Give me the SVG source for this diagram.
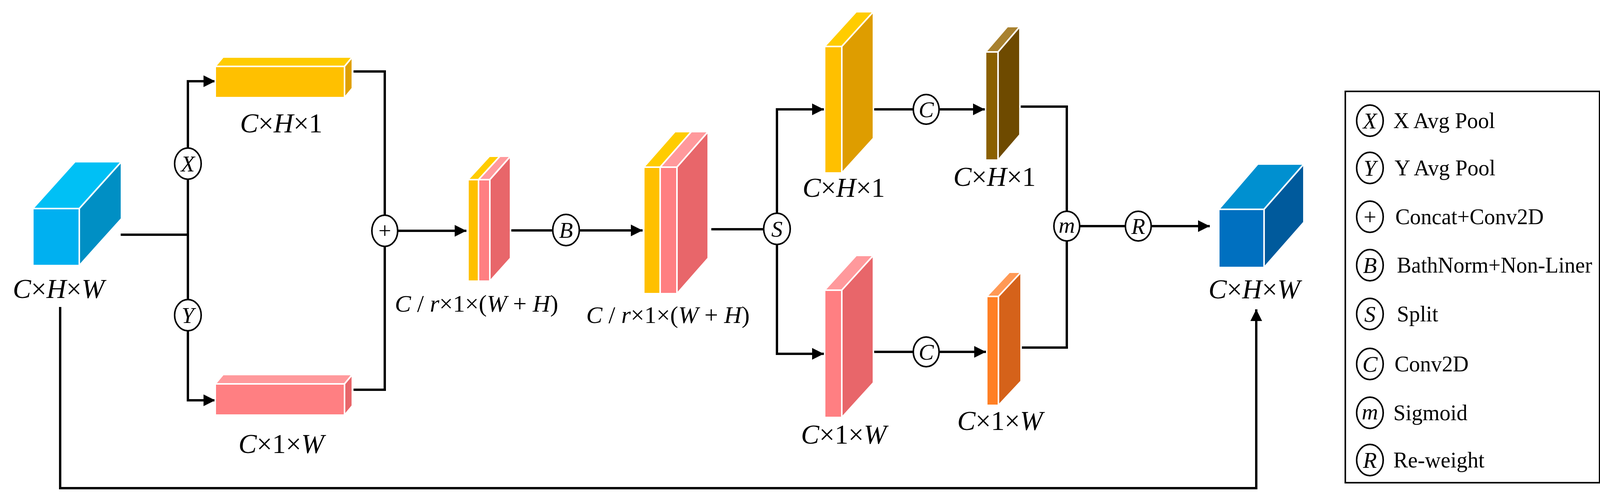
<svg xmlns="http://www.w3.org/2000/svg" width="4124" height="1288" viewBox="0 0 4124 1288">
<defs>
<marker id="a" viewBox="0 0 30 30" refX="30" refY="15" markerWidth="30" markerHeight="30" markerUnits="userSpaceOnUse" orient="auto"><path d="M0,0 L30,15 L0,30 Z" fill="#000"/></marker>
</defs>
<style>
.ln{fill:none;stroke:#000;stroke-width:6}
.op{fill:#fff;stroke:#000;stroke-width:4}
.ot{font-family:"Liberation Serif",serif;font-style:italic;font-size:58px;text-anchor:middle}
.lb{font-family:"Liberation Serif",serif;font-style:italic;font-size:70px;text-anchor:middle}
.ls{font-family:"Liberation Serif",serif;font-style:italic;font-size:62px;text-anchor:middle}
.lg{font-family:"Liberation Serif",serif;font-size:56px}
.f{stroke:#fff;stroke-width:4}
</style>
<rect width="4124" height="1288" fill="#fff"/>
<g id="connectors">
<polyline class="ln" points="309,601 481,601"/>
<polyline class="ln" points="481,601 481,208 551,208" marker-end="url(#a)"/>
<polyline class="ln" points="481,601 481,1025 551,1025" marker-end="url(#a)"/>
<polyline class="ln" points="905,183 985,183 985,998 905,998"/>
<line class="ln" x1="985" y1="591" x2="1194" y2="591" marker-end="url(#a)"/>
<line class="ln" x1="1307" y1="590" x2="1449" y2="590"/>
<line class="ln" x1="1449" y1="590" x2="1645" y2="590" marker-end="url(#a)"/>
<line class="ln" x1="1821" y1="587" x2="1989" y2="587"/>
<polyline class="ln" points="1989,587 1989,280 2109,280" marker-end="url(#a)"/>
<polyline class="ln" points="1989,587 1989,906 2109,906" marker-end="url(#a)"/>
<line class="ln" x1="2236" y1="280" x2="2521" y2="280" marker-end="url(#a)"/>
<line class="ln" x1="2236" y1="901" x2="2524" y2="901" marker-end="url(#a)"/>
<polyline class="ln" points="2611,273 2731,273 2731,890 2615,890"/>
<line class="ln" x1="2731" y1="579" x2="3097" y2="579" marker-end="url(#a)"/>
<polyline class="ln" points="154,786 154,1250 3216,1250 3216,792" marker-end="url(#a)"/>
</g>
<g id="input">
<polygon class="f" points="84,534 192,414 311,414 203,534" fill="#00C0F5"/>
<polygon class="f" points="203,534 311,414 311,560 203,680" fill="#008FC4"/>
<rect class="f" x="84" y="534" width="119" height="146" fill="#00B0F0"/>
<text class="lb" x="150" y="763">C<tspan font-style="normal">×</tspan>H<tspan font-style="normal">×</tspan>W</text>
</g>
<g id="opX"><ellipse class="op" cx="481" cy="419" rx="34" ry="40"/><text class="ot" x="481" y="439">X</text></g>
<g id="opY"><ellipse class="op" cx="481" cy="807" rx="34" ry="40"/><text class="ot" x="481" y="827">Y</text></g>
<g id="barH">
<polygon class="f" points="551,170 571,146 902,146 882,170" fill="#FFCC00"/>
<polygon class="f" points="882,170 902,146 902,226 882,250" fill="#E0A000"/>
<rect class="f" x="551" y="170" width="331" height="80" fill="#FFC000"/>
<text class="lb" x="720" y="339">C<tspan font-style="normal">×</tspan>H<tspan font-style="normal">×1</tspan></text>
</g>
<g id="barW">
<polygon class="f" points="551,983 571,959 902,959 882,983" fill="#FF999C"/>
<polygon class="f" points="882,983 902,959 902,1039 882,1063" fill="#E8666A"/>
<rect class="f" x="551" y="983" width="331" height="80" fill="#FF7F82"/>
<text class="lb" x="720" y="1160">C<tspan font-style="normal">×1×</tspan>W</text>
</g>
<g id="opPlus"><ellipse class="op" cx="985" cy="591" rx="33" ry="40"/><text x="985" y="610" font-family="Liberation Serif,serif" font-size="58" text-anchor="middle">+</text></g>
<g id="stack1">
<polygon class="f" points="1198,460 1253,400 1280,400 1225,460" fill="#FFCC00"/>
<polygon class="f" points="1225,460 1280,400 1307,400 1254,460" fill="#FF999C"/>
<polygon class="f" points="1254,460 1307,400 1307,661 1254,720" fill="#E8666A"/>
<rect class="f" x="1198" y="460" width="27" height="260" fill="#FFC000"/>
<rect class="f" x="1225" y="460" width="29" height="260" fill="#FF7F82"/>
<text class="ls" x="1220" y="798">C<tspan font-style="normal"> / </tspan>r<tspan font-style="normal">×1×(</tspan>W<tspan font-style="normal"> + </tspan>H<tspan font-style="normal">)</tspan></text>
</g>
<g id="opB"><ellipse class="op" cx="1449" cy="589" rx="34" ry="40"/><text class="ot" x="1449" y="609">B</text></g>
<g id="stack2">
<polygon class="f" points="1648,428 1728,337 1770,337 1690,428" fill="#FFCC00"/>
<polygon class="f" points="1690,428 1770,337 1813,337 1733,428" fill="#FF999C"/>
<polygon class="f" points="1733,428 1813,337 1813,661 1733,752" fill="#E8666A"/>
<rect class="f" x="1648" y="428" width="42" height="324" fill="#FFC000"/>
<rect class="f" x="1690" y="428" width="43" height="324" fill="#FF7F82"/>
<text class="ls" x="1710" y="827">C<tspan font-style="normal"> / </tspan>r<tspan font-style="normal">×1×(</tspan>W<tspan font-style="normal"> + </tspan>H<tspan font-style="normal">)</tspan></text>
</g>
<g id="opS"><ellipse class="op" cx="1989" cy="586" rx="34" ry="40"/><text class="ot" x="1989" y="606">S</text></g>
<g id="blockH">
<polygon class="f" points="2111,119 2192,30 2236,30 2155,119" fill="#FFCC00"/>
<polygon class="f" points="2155,119 2236,30 2236,354 2155,443" fill="#DE9D00"/>
<rect class="f" x="2111" y="119" width="44" height="324" fill="#FFC000"/>
<text class="lb" x="2160" y="504">C<tspan font-style="normal">×</tspan>H<tspan font-style="normal">×1</tspan></text>
</g>
<g id="blockW">
<polygon class="f" points="2111,743 2192,654 2236,654 2155,743" fill="#FF999C"/>
<polygon class="f" points="2155,743 2236,654 2236,980 2155,1069" fill="#E8666A"/>
<rect class="f" x="2111" y="743" width="44" height="326" fill="#FF7F82"/>
<text class="lb" x="2160" y="1136">C<tspan font-style="normal">×1×</tspan>W</text>
</g>
<g id="opC1"><ellipse class="op" cx="2371" cy="280" rx="33" ry="38"/><text class="ot" x="2371" y="300">C</text></g>
<g id="opC2"><ellipse class="op" cx="2371" cy="901" rx="33" ry="38"/><text class="ot" x="2371" y="921">C</text></g>
<g id="blockH2">
<polygon class="f" points="2523,133 2579,68 2611,68 2555,133" fill="#A8812F"/>
<polygon class="f" points="2555,133 2611,68 2611,345 2555,410" fill="#6E4A00"/>
<rect class="f" x="2523" y="133" width="32" height="277" fill="#8B6000"/>
<text class="lb" x="2546" y="476">C<tspan font-style="normal">×</tspan>H<tspan font-style="normal">×1</tspan></text>
</g>
<g id="blockW2">
<polygon class="f" points="2526,759 2584,697 2614,697 2556,759" fill="#FF9955"/>
<polygon class="f" points="2556,759 2614,697 2614,976 2556,1038" fill="#D5621A"/>
<rect class="f" x="2526" y="759" width="30" height="279" fill="#FF7F24"/>
<text class="lb" x="2560" y="1101">C<tspan font-style="normal">×1×</tspan>W</text>
</g>
<g id="opM"><ellipse class="op" cx="2731" cy="579" rx="33" ry="38"/><text class="ot" x="2731" y="596">m</text></g>
<g id="opR"><ellipse class="op" cx="2914" cy="579" rx="33" ry="38"/><text class="ot" x="2914" y="599">R</text></g>
<g id="output">
<polygon class="f" points="3120,536 3220,420 3338,420 3236,536" fill="#0090D0"/>
<polygon class="f" points="3236,536 3338,420 3338,569 3236,685" fill="#005A9C"/>
<rect class="f" x="3120" y="536" width="116" height="149" fill="#0070C0"/>
<text class="lb" x="3211" y="764">C<tspan font-style="normal">×</tspan>H<tspan font-style="normal">×</tspan>W</text>
</g>
<g id="legend">
<rect x="3444" y="234" width="651" height="1002" fill="none" stroke="#000" stroke-width="4"/>
<g class="op"><ellipse cx="3507" cy="309" rx="34" ry="40"/><ellipse cx="3507" cy="430" rx="34" ry="40"/><ellipse cx="3507" cy="555" rx="34" ry="40"/><ellipse cx="3507" cy="679" rx="34" ry="40"/><ellipse cx="3507" cy="804" rx="34" ry="40"/><ellipse cx="3507" cy="932" rx="34" ry="40"/><ellipse cx="3507" cy="1057" rx="34" ry="40"/><ellipse cx="3507" cy="1178" rx="34" ry="40"/></g>
<text class="ot" x="3507" y="329">X</text><text class="ot" x="3507" y="450">Y</text>
<text x="3507" y="575" font-family="Liberation Serif,serif" font-size="58" text-anchor="middle">+</text>
<text class="ot" x="3507" y="699">B</text><text class="ot" x="3507" y="824">S</text><text class="ot" x="3507" y="952">C</text><text class="ot" x="3507" y="1074">m</text><text class="ot" x="3507" y="1198">R</text>
<text class="lg" x="3567" y="328">X Avg Pool</text>
<text class="lg" x="3570" y="449">Y Avg Pool</text>
<text class="lg" x="3572" y="574">Concat+Conv2D</text>
<text class="lg" x="3576" y="698" textLength="500" lengthAdjust="spacingAndGlyphs">BathNorm+Non-Liner</text>
<text class="lg" x="3576" y="823">Split</text>
<text class="lg" x="3570" y="951">Conv2D</text>
<text class="lg" x="3567" y="1076">Sigmoid</text>
<text class="lg" x="3567" y="1197">Re-weight</text>
</g>
</svg>
